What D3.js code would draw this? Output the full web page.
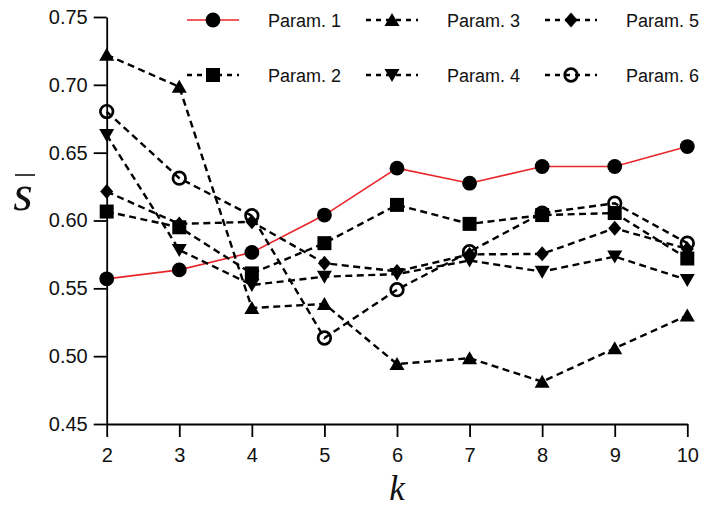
<!DOCTYPE html>
<html>
<head>
<meta charset="utf-8">
<script src="https://cdn.jsdelivr.net/npm/d3@7"></script>
<style>
  html, body { margin: 0; padding: 0; background: #fff; }
  svg { display: block; }
</style>
</head>
<body>
<svg id="chart" width="712" height="508"></svg>
<script>
// ---- data ----
const kValues = [2, 3, 4, 5, 6, 7, 8, 9, 10];
const yTicks = [0.45, 0.50, 0.55, 0.60, 0.65, 0.70, 0.75];
const seriesNames = ["Param. 1", "Param. 2", "Param. 3", "Param. 4", "Param. 5", "Param. 6"];
const param1 = [0.557, 0.5636, 0.5765, 0.604, 0.6386, 0.6275, 0.6398, 0.6398, 0.6545];
const param2 = [0.6066, 0.595, 0.561, 0.5833, 0.6115, 0.5975, 0.604, 0.6055, 0.572];
const param3 = [0.7221, 0.6985, 0.5355, 0.5385, 0.4942, 0.4985, 0.4812, 0.5058, 0.530];
const param4 = [0.6631, 0.5783, 0.5525, 0.5586, 0.5605, 0.5705, 0.5623, 0.5734, 0.5562];
const param5 = [0.6213, 0.5975, 0.599, 0.5685, 0.5625, 0.575, 0.5754, 0.5943, 0.579];
const param6 = [0.6803, 0.6312, 0.6035, 0.5134, 0.5490, 0.577, 0.6055, 0.6127, 0.5833];
const allValues = [param1, param2, param3, param4, param5, param6];

// ---- styles ----
const markers = ["circle", "square", "triUp", "triDown", "diamond", "openCircle"];
const lineColors = ["#e8262a", "#000", "#000", "#000", "#000", "#000"];
const dashed = [false, true, true, true, true, true];

const svg = d3.select("#chart");
const margin = { left: 106.7, top: 17, right: 24.7, bottom: 84 };
const W = 712, H = 508;
const x = d3.scaleLinear().domain([2, 10]).range([margin.left, W - margin.right]);
const y = d3.scaleLinear().domain([0.45, 0.75]).range([H - margin.bottom, margin.top]);

function markerPath(type) {
  switch (type) {
    case "square": return "M-7,-7H7V7H-7Z";
    case "triUp": return "M0,-7L7.5,6L-7.5,6Z";
    case "triDown": return "M0,7L7.5,-6L-7.5,-6Z";
    case "diamond": return "M0,-7.5L6.5,0L0,7.5L-6.5,0Z";
    default: return null;
  }
}
function drawMarker(g, type, cx, cy) {
  if (type === "circle") {
    g.append("circle").attr("cx", cx).attr("cy", cy).attr("r", 7.4).attr("fill", "#000");
  } else if (type === "openCircle") {
    g.append("circle").attr("cx", cx).attr("cy", cy).attr("r", 6.3)
      .attr("fill", "none").attr("stroke", "#000").attr("stroke-width", 2.7);
  } else {
    g.append("path").attr("d", markerPath(type))
      .attr("transform", `translate(${cx},${cy})`).attr("fill", "#000");
  }
}

// ---- axes ----
const xAxis = d3.axisBottom(x).tickValues(kValues).tickSize(13).tickSizeOuter(0).tickPadding(11)
  .tickFormat(d3.format("d"));
const yAxis = d3.axisLeft(y).tickValues(yTicks).tickSize(13).tickSizeOuter(0).tickPadding(6)
  .tickFormat(d3.format(".2f"));

const gx = svg.append("g").attr("transform", `translate(0,${H - margin.bottom})`).call(xAxis);
const gy = svg.append("g").attr("transform", `translate(${margin.left},0)`).call(yAxis);
[gx, gy].forEach(g => {
  g.selectAll("path, line").attr("stroke", "#000").attr("stroke-width", 1.8);
  g.selectAll("text").attr("font-family", "Liberation Sans, Arial, sans-serif")
    .attr("font-size", 20).attr("fill", "#111");
});

// ---- series ----
const line = d3.line().x((d, i) => x(kValues[i])).y(d => y(d));
const plot = svg.append("g");
allValues.forEach((vals, s) => {
  plot.append("path").datum(vals).attr("d", line)
    .attr("fill", "none").attr("stroke", lineColors[s])
    .attr("stroke-width", dashed[s] ? 2.4 : 1.6)
    .attr("stroke-dasharray", dashed[s] ? "7,4.5" : null);
  const mg = plot.append("g");
  vals.forEach((v, i) => drawMarker(mg, markers[s], x(kValues[i]), y(v)));
});

// ---- legend ----
const legend = svg.append("g");
seriesNames.forEach((name, s) => {
  const col = Math.floor(s / 2), row = s % 2;
  const mx = 213 + 179 * col, my = 20 + 55 * row;
  legend.append("line").attr("x1", mx - 26).attr("x2", mx + 26).attr("y1", my).attr("y2", my)
    .attr("stroke", lineColors[s]).attr("stroke-width", dashed[s] ? 2.3 : 1.6)
    .attr("stroke-dasharray", dashed[s] ? "5,5" : null);
  drawMarker(legend, markers[s], mx, my);
  legend.append("text").attr("x", mx + 55).attr("y", my + 7)
    .attr("font-family", "Liberation Sans, Arial, sans-serif").attr("font-size", 18)
    .attr("fill", "#111").text(name);
});

// ---- axis titles ----
svg.append("text").attr("x", x(6)).attr("y", 500).attr("text-anchor", "middle")
  .attr("font-family", "Liberation Serif, DejaVu Serif, serif").attr("font-style", "italic")
  .attr("font-size", 35).attr("fill", "#111").text("k");
svg.append("text").attr("x", 23).attr("y", 210).attr("text-anchor", "middle")
  .attr("font-family", "Liberation Serif, DejaVu Serif, serif").attr("font-style", "italic")
  .attr("font-size", 50).attr("fill", "#111").text("s");
svg.append("line").attr("x1", 15).attr("x2", 35).attr("y1", 175).attr("y2", 175)
  .attr("stroke", "#111").attr("stroke-width", 1.6);
</script>
</body>
</html>
